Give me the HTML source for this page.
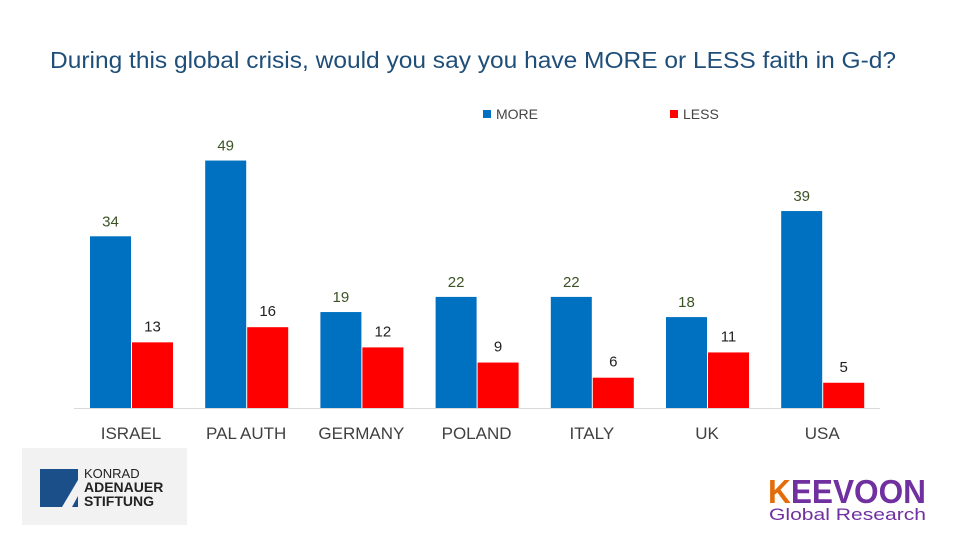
<!DOCTYPE html>
<html><head><meta charset="utf-8"><style>
body{margin:0;width:960px;height:540px;background:#fff;overflow:hidden;font-family:"Liberation Sans",sans-serif}
</style></head><body>
<svg id="chart" width="960" height="540" xmlns="http://www.w3.org/2000/svg" font-family="Liberation Sans, sans-serif">
<text x="473" y="68" text-anchor="middle" font-size="23" fill="#1f4e79" textLength="846" lengthAdjust="spacingAndGlyphs">During this global crisis, would you say you have MORE or LESS faith in G-d?</text>
<g>
<rect x="483" y="110" width="8" height="8" fill="#0070c0"/>
<text x="496" y="119" font-size="14" fill="#444">MORE</text>
<rect x="670" y="110" width="8" height="8" fill="#ff0000"/>
<text x="683" y="119" font-size="14" fill="#444">LESS</text>
</g>
<line x1="74" y1="408.5" x2="880" y2="408.5" stroke="#d9d9d9" stroke-width="1"/>
<g id="bars"></g>
<g>
<rect x="22" y="448" width="165" height="77" fill="#f2f2f2"/>
<polygon points="40,469 78,469 78,480 62,507 40,507" fill="#1b4f8a"/>
<polygon points="72,507 78,496 78,507" fill="#1b4f8a"/>
<text x="84" y="478" font-size="13" fill="#222">KONRAD</text>
<text x="84" y="492" font-size="14" font-weight="bold" fill="#222">ADENAUER</text>
<text x="84" y="506" font-size="14" font-weight="bold" fill="#222">STIFTUNG</text>
</g>
<g>
<text x="768" y="503" font-size="33" font-weight="bold" fill="#7030a0" textLength="158" lengthAdjust="spacingAndGlyphs"><tspan fill="#e46c0a">K</tspan>EEVOON</text>
<text x="769" y="520" font-size="17" fill="#7030a0" textLength="157" lengthAdjust="spacingAndGlyphs">Global Research</text>
</g>
</svg>
<script>
const categories=["ISRAEL","PAL AUTH","GERMANY","POLAND","ITALY","UK","USA"];
const moreValues=[34,49,19,22,22,18,39];
const lessValues=[13,16,12,9,6,11,5];
const NS="http://www.w3.org/2000/svg";
const g=document.getElementById("bars");
const base=408, scale=5.05, x0=131, step=115.2, bw=41;
function y(v){return base-v*scale;}
function cx(i){return x0+i*step;}
function mk(tag,attrs){const e=document.createElementNS(NS,tag);for(const k in attrs)e.setAttribute(k,attrs[k]);g.appendChild(e);return e;}
categories.forEach((c,i)=>{
  const b=mk("rect",{x:cx(i)-bw,y:y(moreValues[i]),width:bw,height:moreValues[i]*scale,fill:"#0070c0"});
  
  
  const r=mk("rect",{x:cx(i)+1,y:y(lessValues[i]),width:bw,height:lessValues[i]*scale,fill:"#ff0000"});
  
  
  const t1=mk("text",{x:cx(i)-bw/2,y:y(moreValues[i])-10,"text-anchor":"middle","font-size":15,fill:"#3b5323"});
  t1.textContent=moreValues[i];
  
  
  const t2=mk("text",{x:cx(i)+1+bw/2,y:y(lessValues[i])-11,"text-anchor":"middle","font-size":15,fill:"#222"});
  t2.textContent=lessValues[i];
  
  
  const t3=mk("text",{x:cx(i),y:439,"text-anchor":"middle","font-size":17,fill:"#404040"});
  t3.textContent=c;
  
  
});
</script>
</body></html>
